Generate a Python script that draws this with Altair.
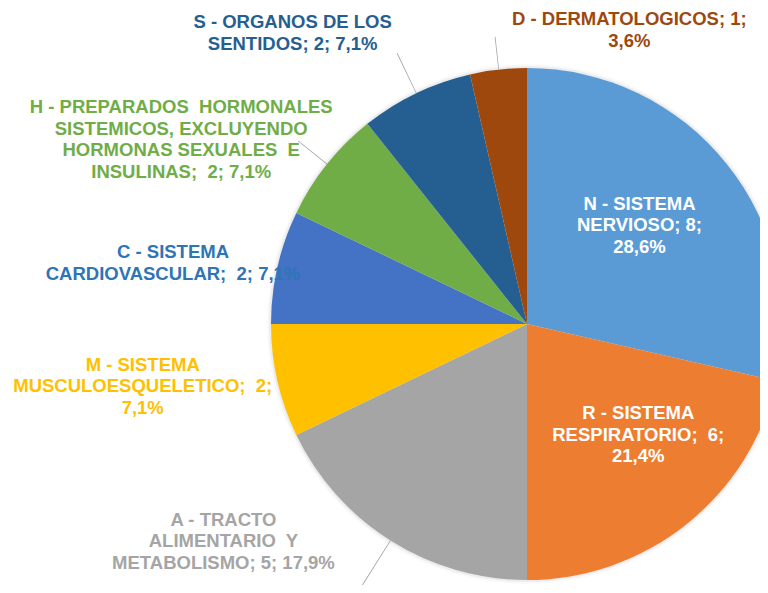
import altair as alt
import pandas as pd

# ---- data ----
codes = ["N", "R", "A", "M", "C", "H", "S", "D"]
counts = [8, 6, 5, 2, 2, 2, 2, 1]
NB = "\u00a0"
labels = [
    "N - SISTEMA\nNERVIOSO; 8;\n28,6%",
    f"R - SISTEMA\nRESPIRATORIO;{NB} 6;\n21,4%",
    f"A - TRACTO\nALIMENTARIO{NB} Y\nMETABOLISMO; 5; 17,9%",
    f"M - SISTEMA\nMUSCULOESQUELETICO;{NB} 2;\n7,1%",
    f"C - SISTEMA\nCARDIOVASCULAR;{NB} 2; 7,1%",
    f"H - PREPARADOS{NB} HORMONALES\nSISTEMICOS, EXCLUYENDO\nHORMONAS SEXUALES{NB} E\nINSULINAS;{NB} 2; 7,1%",
    "S - ORGANOS DE LOS\nSENTIDOS; 2; 7,1%",
    "D - DERMATOLOGICOS; 1;\n3,6%",
]
slice_colors = ["#5B9BD5", "#ED7D31", "#A5A5A5", "#FFC000",
                "#4472C4", "#70AD47", "#255E91", "#9E480E"]
label_colors = ["#FFFFFF", "#FFFFFF", "#A5A5A5", "#FFC000",
                "#2E75B6", "#70AD47", "#255E91", "#9E480E"]

df = pd.DataFrame({"code": codes, "count": counts, "label": labels})
df["end"] = df["count"].cumsum()
df["start"] = df["end"] - df["count"]
df["mid"] = (df["start"] + df["end"]) / 2
total = int(df["count"].sum())

# ---- styling / layout ----
CX, CY, R = 519, 316, 256
FONT = "Liberation Sans"
LH = 21.5
theta_scale = alt.Scale(domain=[0, total], range=[0, 6.283185307179586])

# label placement: radius along slice bisector plus a nudge (r, dx, dy)
label_place = {
    "N": (149, -4, -6),
    "R": (156, 14, -11),
    "A": (345, -120, -75),
    "M": (388, -6, -24),
    "C": (359, -4, 19),
    "H": (386, -44, 56),
    "S": (365, -76, 38),
    "D": (283, 134, -13),
}
# leader line outer radius for slices with outside labels
leaders = {"A": 318, "H": 293, "S": 300, "D": 289}

base = alt.Chart(df)
cx = alt.value(CX)
cy = alt.value(CY)

shadow = [
    base.mark_arc(radius=R + rr, color="#000000", opacity=op).encode(
        theta=alt.Theta("start:Q", stack=False, scale=theta_scale),
        theta2="end:Q", x=cx, y=cy)
    for rr, op in [(4, 0.025), (2, 0.05)]
]

pie = base.mark_arc(radius=R).encode(
    theta=alt.Theta("start:Q", stack=False, scale=theta_scale),
    theta2="end:Q",
    color=alt.Color("code:N", scale=alt.Scale(domain=codes, range=slice_colors),
                    legend=None),
    x=cx, y=cy,
)

leader_layers = []
for code, outer in leaders.items():
    leader_layers.append(
        base.transform_filter(alt.datum.code == code)
        .transform_calculate(mid2="datum.mid + 0.013")
        .mark_arc(innerRadius=R, outerRadius=outer, color="#A6A6A6")
        .encode(theta=alt.Theta("mid:Q", stack=False, scale=theta_scale),
                theta2="mid2:Q", x=cx, y=cy)
    )

text_layers = []
for code, col, lab in zip(codes, label_colors, labels):
    r, dx, dy = label_place[code]
    nlines = lab.count("\n") + 1
    text_layers.append(
        base.transform_filter(alt.datum.code == code)
        .mark_text(radius=r, dx=dx, dy=dy - (nlines - 1) * LH / 2,
                   align="center", baseline="middle",
                   lineBreak="\n", lineHeight=LH, font=FONT, fontSize=18.5,
                   fontWeight="bold", color=col)
        .encode(theta=alt.Theta("mid:Q", stack=False, scale=theta_scale),
                text="label:N", x=cx, y=cy)
    )

chart = alt.layer(*shadow, pie, *leader_layers, *text_layers).properties(
    width=752, height=577, padding=0,
    autosize=alt.AutoSizeParams(type="none"),
).configure_view(stroke=None)

chart.save("out.html", embed_options={"renderer": "svg", "actions": False})
